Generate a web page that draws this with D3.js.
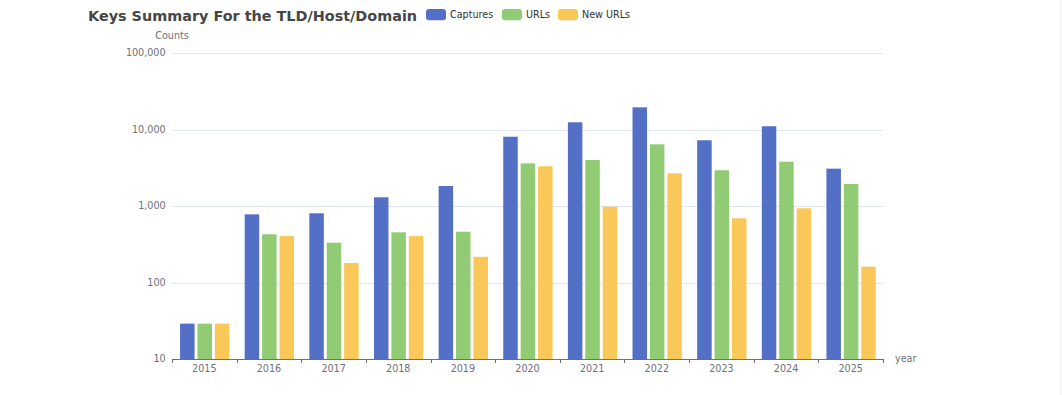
<!DOCTYPE html>
<html><head><meta charset="utf-8">
<script src="https://cdn.jsdelivr.net/npm/d3@7/dist/d3.min.js"></script>
<style>html,body{margin:0;padding:0;background:#fff;}svg{display:block;font-family:"DejaVu Sans",sans-serif;}</style>
</head><body>
<script>
const years = ["2015","2016","2017","2018","2019","2020","2021","2022","2023","2024","2025"];
const seriesNames = ["Captures","URLs","New URLs"];
const captures = [29, 778, 803, 1300, 1825, 8050, 12420, 19500, 7230, 11020, 3076];
const urls = [29, 427, 331, 453, 461, 3613, 3993, 6400, 2930, 3795, 1940];
const newUrls = [29, 405, 180, 405, 217, 3304, 979, 2675, 690, 933, 161];
const yTicks = [10, 100, 1000, 10000, 100000];
const colors = ["#5470c6", "#91cc75", "#fac858"];
const seriesValues = [captures, urls, newUrls];

(function () {
const W = 1062, H = 395;
const pl = 172, pr = 883, pt = 53, pb = 359;
const svg = d3.select("body").append("svg").attr("width", W).attr("height", H);

// faint right border
svg.append("line").attr("x1", 1060.5).attr("x2", 1060.5).attr("y1", 0).attr("y2", H)
  .attr("stroke", "#eef0f2").attr("stroke-width", 1);

const x0 = d3.scaleBand().domain(years).range([pl, pr]).padding(0);
const bw = x0.bandwidth();
const groupW = bw * 0.763;
const x1 = d3.scaleBand().domain(seriesNames).range([bw / 2 - groupW / 2 + 0.4, bw / 2 + groupW / 2 + 0.4]).paddingInner(0.2 / 1.2).paddingOuter(0);
const y = d3.scaleLog().domain([10, 100000]).range([pb, pt]);

// grid
const grid = svg.append("g");
yTicks.forEach(t => {
  if (t === 10) return;
  grid.append("line").attr("x1", pl).attr("x2", pr)
    .attr("y1", Math.round(y(t)) + 0.5).attr("y2", Math.round(y(t)) + 0.5)
    .attr("stroke", "#E0E6F1").attr("stroke-width", 1);
});

// y labels
const fmt = d3.format(",");
svg.append("g").selectAll("text").data(yTicks).join("text")
  .attr("x", pl - 6.4).attr("y", d => y(d)).attr("dy", "0.35em")
  .attr("text-anchor", "end").attr("font-size", 9.6).attr("fill", "#6E7079")
  .text(d => fmt(d));

// bars
seriesNames.forEach((s, si) => {
  svg.append("g").selectAll("rect").data(years).join("rect")
    .attr("x", d => x0(d) + x1(s))
    .attr("width", x1.bandwidth())
    .attr("y", (d, i) => y(seriesValues[si][i]))
    .attr("height", (d, i) => pb - y(seriesValues[si][i]))
    .attr("fill", colors[si]);
});

// x axis
const xAxis = d3.axisBottom(x0).tickSize(0).tickPadding(6.4);
const gx = svg.append("g").attr("transform", `translate(0,${pb})`).call(xAxis);
gx.select(".domain").remove();
gx.selectAll("text").attr("font-size", 9.6).attr("fill", "#6E7079").attr("font-family", "DejaVu Sans, sans-serif");
svg.append("line").attr("x1", pl).attr("x2", pr).attr("y1", pb + 0.5).attr("y2", pb + 0.5)
  .attr("stroke", "#6E7079").attr("stroke-width", 1);
const bounds = years.map(d => x0(d)).concat([pr]);
svg.append("g").selectAll("line").data(bounds).join("line")
  .attr("x1", d => Math.round(d) + 0.5).attr("x2", d => Math.round(d) + 0.5)
  .attr("y1", pb).attr("y2", pb + 4)
  .attr("stroke", "#6E7079").attr("stroke-width", 1);

// axis names
svg.append("text").attr("x", pl).attr("y", 35.5).attr("dy", "0.35em").attr("text-anchor", "middle")
  .attr("font-size", 9.6).attr("fill", "#6E7079").text("Counts");
svg.append("text").attr("x", pr + 12).attr("y", pb).attr("dy", "0.35em")
  .attr("font-size", 9.6).attr("fill", "#6E7079").text("year");

// title
svg.append("text").attr("x", 88).attr("y", 16).attr("dy", "0.35em")
  .attr("font-size", 14.4).attr("font-weight", "bold").attr("fill", "#464646")
  .text("Keys Summary For the TLD/Host/Domain");

// legend
const legendX = [426, 502, 558];
seriesNames.forEach((s, i) => {
  const g = svg.append("g").attr("transform", `translate(${legendX[i]},9)`);
  g.append("rect").attr("width", 20).attr("height", 11.2).attr("rx", 3.2).attr("fill", colors[i]);
  g.append("text").attr("x", 24).attr("y", 5.6).attr("dy", "0.35em")
    .attr("font-size", 9.6).attr("fill", "#333").text(s);
});
})();
</script>
</body></html>
